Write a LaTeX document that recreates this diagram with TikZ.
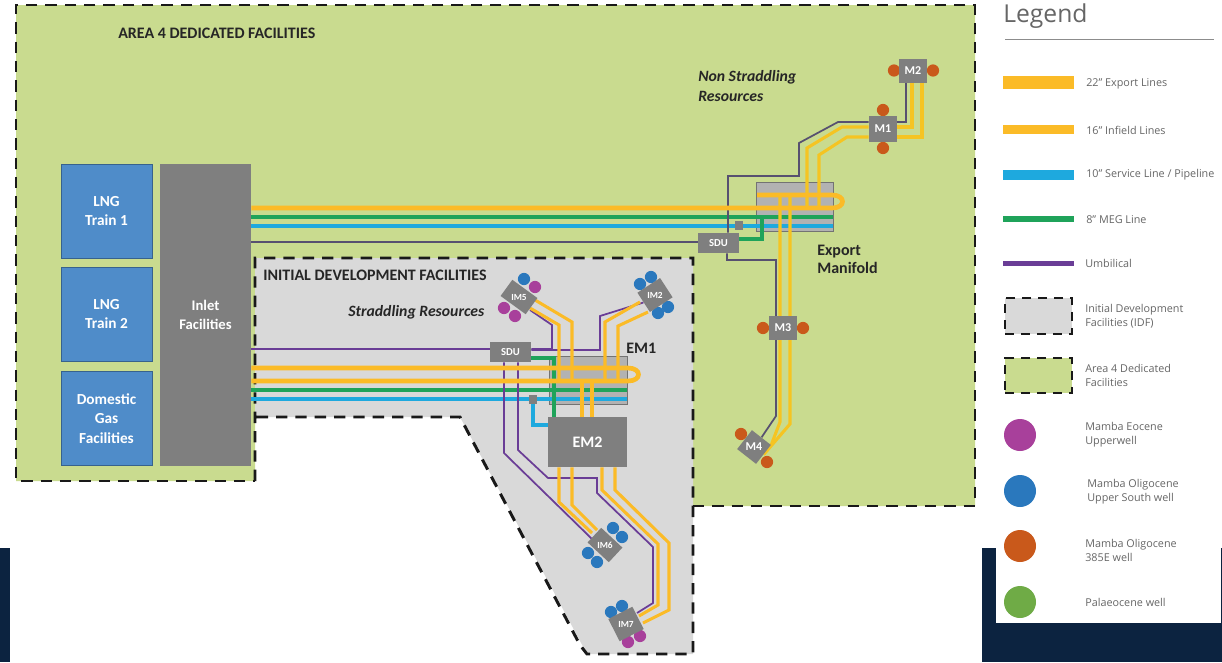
\documentclass[tikz,border=0pt]{standalone}
\usepackage{fontspec}
\setmainfont{Carlito}
\newfontfamily\lgdfont{Open Sans}
\pgfdeclarelayer{regions}
\pgfdeclarelayer{pipes}
\pgfdeclarelayer{wells}
\pgfsetlayers{regions,pipes,wells,main}
\definecolor{areagreen}{HTML}{C9DB8F}
\definecolor{idfgrey}{HTML}{D9D9D9}
\definecolor{boxgrey}{HTML}{7F7F7F}
\definecolor{lngblue}{HTML}{4F8CC9}
\definecolor{exportyellow}{HTML}{FBBB27}
\definecolor{infieldyellow}{HTML}{F5C422}
\definecolor{megreen}{HTML}{1FA35A}
\definecolor{svcblue}{HTML}{1EA9DE}
\definecolor{umbpurple}{HTML}{6A3D96}
\definecolor{umbgrey}{HTML}{575070}
\definecolor{wellorange}{HTML}{C9591B}
\definecolor{wellmagenta}{HTML}{A8409B}
\definecolor{wellblue}{HTML}{2A78BD}
\definecolor{wellgreen}{HTML}{6FAB46}
\definecolor{navy}{HTML}{0C2340}
\definecolor{legendtext}{HTML}{666666}
\tikzset{
 x=0.75pt,y=-0.75pt,
 wh/.style 2 args={minimum width=#1*0.75pt,minimum height=#2*0.75pt},
 dashborder/.style={draw=black!90,line width=2.2pt,dash pattern=on 8.5pt off 6pt},
 lngbox/.style={fill=lngblue,draw=lngblue!70!black,line width=0.5pt,wh={91}{94},inner sep=0pt,align=center,text=white,font=\fontsize{11.5}{14.5}\selectfont\bfseries},
 greybox/.style={fill=boxgrey,inner sep=0pt,text=white,font=\fontsize{8}{10}\selectfont\bfseries},
 manifold/.style={fill=black!30,draw=black!55,line width=0.7pt,inner sep=0pt},
 exportpipe/.style={draw=exportyellow,line width=3.5pt},
 infield/.style={draw=exportyellow,line width=2.3pt},
 infieldb/.style={draw=infieldyellow,line width=2.3pt},
 megpipe/.style={draw=megreen,line width=2.3pt},
 svcpipe/.style={draw=svcblue,line width=2.3pt},
 umbil/.style={draw=umbpurple,line width=1.3pt},
 umbilg/.style={draw=umbgrey,line width=1.3pt},
 well/.style={circle,inner sep=0pt,minimum size=9.2pt},
 title/.style={inner sep=0pt,anchor=west,font=\fontsize{12}{14}\selectfont\bfseries,text=black!85},
 ititle/.style={inner sep=0pt,anchor=west,align=left,font=\fontsize{11.8}{15}\selectfont\bfseries\itshape,text=black!85},
 legtext/.style={inner sep=0pt,anchor=west,align=left,font=\lgdfont\fontsize{8.1}{10.5}\selectfont,text=legendtext},
 swatch/.style={inner sep=0pt,minimum width=53.25pt},
 legwell/.style={circle,inner sep=0pt,minimum size=24pt},
}
\begin{document}
\begin{tikzpicture}
\useasboundingbox (0,0) rectangle (1222,662);
\begin{pgfonlayer}{regions}
 \fill[white] (0,0) rectangle (1222,662);
 \fill[navy] (0,548) rectangle (10,662);
 \fill[navy] (982,548) rectangle (1222,662);
 \fill[white] (996,540) rectangle (1221,623);
 \path[fill=areagreen] (16,5) -- (975,5) -- (975,506) -- (693,506) -- (693,258) -- (255,258) -- (255,481) -- (16,481) -- cycle;
 \path[fill=idfgrey] (255,258) -- (693,258) -- (693,654) -- (587,654) -- (460,417) -- (255,417) -- cycle;
 \draw[dashborder] (693,506) -- (975,506) -- (975,5) -- (16,5) -- (16,481) -- (255,481);
 \draw[dashborder] (255,481) -- (255,258) -- (693,258) -- (693,654) -- (587,654) -- (580,645) -- (460,417) -- (255,417);
 \node[manifold,wh={77}{49}] (expm) at (794.5,206.5) {};
 \node[manifold,wh={78}{48}] (em1) at (588,380) {};
\end{pgfonlayer}

% Facilities
\node[lngbox] (t1) at (106.5,211) {LNG\\Train 1};
\node[lngbox] (t2) at (106.5,314) {LNG\\Train 2};
\node[lngbox] (dg) at (106.5,418.5) {Domestic\\Gas\\Facilities};
\node[fill=boxgrey,wh={91}{302},inner sep=0pt,align=center,text=white,font=\fontsize{11}{14.5}\selectfont\bfseries] (inlet) at (205.5,315) {Inlet\\Facilities};

% Subsea structures
\node[greybox,wh={41}{20}] (sdua) at (718.5,243) {SDU};
\node[greybox,wh={41}{20}] (sdub) at (510.5,352) {SDU};
\node[fill=boxgrey,inner sep=0pt,wh={8}{9}] (sqa) at (739,225) {};
\node[fill=boxgrey,inner sep=0pt,wh={8}{9}] (sqb) at (533,399) {};
\node[greybox,wh={79}{50},font=\fontsize{12}{14}\selectfont\bfseries] (em2) at (587.5,442) {EM2};
\node[greybox,wh={28}{26},font=\fontsize{9}{10}\selectfont\bfseries] (m1) at (883,129) {M1};
\node[greybox,wh={28}{24},font=\fontsize{9}{10}\selectfont\bfseries] (m2) at (913,71) {M2};
\node[greybox,wh={28}{24},font=\fontsize{9}{10}\selectfont\bfseries] (m3) at (783,328) {M3};
\node[greybox,wh={24}{24},rotate=-38,font=\fontsize{9}{10}\selectfont\bfseries] (m4) at (754,447) {\rotatebox{38}{M4}};
\node[greybox,wh={31}{20},rotate=-36,font=\fontsize{7}{9}\selectfont\bfseries] (im5) at (519,297) {\rotatebox{36}{IM5}};
\node[greybox,wh={27}{23},rotate=33,font=\fontsize{7}{9}\selectfont\bfseries] (im2) at (655,295) {\rotatebox{-33}{IM2}};
\node[greybox,wh={29}{20},rotate=-43,font=\fontsize{7}{9}\selectfont\bfseries] (im6) at (605,545) {\rotatebox{43}{IM6}};
\node[greybox,wh={27}{25},rotate=27,font=\fontsize{7}{9}\selectfont\bfseries] (im7) at (626,624) {\rotatebox{-27}{IM7}};

% Wells
\begin{pgfonlayer}{wells}
 \node[well,fill=wellorange] (w1) at (883,110) {};
 \node[well,fill=wellorange] (w2) at (883,148) {};
 \node[well,fill=wellorange] (w3) at (894,70.5) {};
 \node[well,fill=wellorange] (w4) at (933,70.5) {};
 \node[well,fill=wellorange] (w5) at (763,328) {};
 \node[well,fill=wellorange] (w6) at (803,328) {};
 \node[well,fill=wellorange] (w7) at (741,434) {};
 \node[well,fill=wellorange] (w8) at (767,462) {};
 \node[well,fill=wellblue] (w9) at (524,279) {};
 \node[well,fill=wellmagenta] (w10) at (535,287) {};
 \node[well,fill=wellmagenta] (w11) at (504,308) {};
 \node[well,fill=wellmagenta] (w12) at (515,316) {};
 \node[well,fill=wellblue] (w13) at (640,284) {};
 \node[well,fill=wellblue] (w14) at (651,277) {};
 \node[well,fill=wellblue] (w15) at (668,307) {};
 \node[well,fill=wellblue] (w16) at (658,313) {};
 \node[well,fill=wellblue] (w17) at (613,528) {};
 \node[well,fill=wellblue] (w18) at (622,537) {};
 \node[well,fill=wellblue] (w19) at (588,553) {};
 \node[well,fill=wellblue] (w20) at (597,562) {};
 \node[well,fill=wellblue] (w21) at (611,612) {};
 \node[well,fill=wellblue] (w22) at (622,606) {};
 \node[well,fill=wellmagenta] (w23) at (628,642) {};
 \node[well,fill=wellmagenta] (w24) at (640,636) {};
\end{pgfonlayer}

% Pipes
\begin{pgfonlayer}{pipes}
 % Non straddling side
 \draw[svcpipe] (inlet.east |- 0,226) -- (expm.east |- 0,226);
 \draw[megpipe] (inlet.east |- 0,217) -- (expm.east |- 0,217);
 \draw[megpipe] (sdua.east |- 0,239) -- (762,239) -- (762,217);
 \draw[umbilg] (inlet.east |- 0,242) -- (sdua.west |- 0,242);
 \draw[umbilg] (sdua.north -| 728,0) -- (728,176) -- (799,176) -- (799,143) -- (838,122) -- (m1.west |- 0,122);
 \draw[umbilg] (m1.east |- 0,122) -- (906,122) -- (m2.south -| 906,0);
 \draw[umbilg] (sdua.south -| 727,0) -- (727,260) -- (776,260) -- (776,416) -- (m4.north);
 \draw[infieldb] (m2.south -| 912,0) -- (912,127) -- (m1.east |- 0,127);
 \draw[infieldb] (m2.south -| 922,0) -- (922,137) -- (m1.east |- 0,137);
 \draw[infieldb] (m1.west |- 0,127) -- (842,127) -- (807,148) -- (807,208);
 \draw[infieldb] (m1.west |- 0,137) -- (847,137) -- (819,155) -- (819,208);
 \draw[infieldb] (780,195) -- (780,422) -- (m4.north east);
 \draw[infieldb] (790,195) -- (790,424) -- (m4.east);
 \draw[exportpipe] (inlet.east |- 0,208) -- (832,208) .. controls (846,208) and (846,195) .. (832,195) -- (757,195);
 % Straddling side
 \draw[svcpipe] (inlet.east |- 0,399) -- (em1.east |- 0,399);
 \draw[megpipe] (inlet.east |- 0,390) -- (em1.east |- 0,390);
 \draw[megpipe] (sdub.east |- 0,358) -- (554,358) -- (em2.north -| 554,0);
 \draw[svcpipe] (sqb.south) -- (533,425) -- (em2.west |- 0,425);
 \draw[umbil] (inlet.east |- 0,349) -- (sdub.west |- 0,349);
 \draw[umbil] (sdub.east |- 0,349) -- (552,349) -- (552,325) -- (530,310);
 \draw[umbil] (sdub.east |- 0,350) -- (600,350) -- (600,316) -- (im2.west);
 \draw[umbil] (sdub.south -| 504,0) -- (504,453) -- (592,539);
 \draw[umbil] (sdub.south -| 518,0) -- (518,450) -- (548,478) -- (597,478) -- (597,493) -- (653,547) -- (653,603) -- (637,613);
 \draw[infield] (535,300) -- (572,322) -- (572,381);
 \draw[infield] (530,308) -- (559,325) -- (559,381);
 \draw[infield] (640,302) -- (605,322) -- (605,381);
 \draw[infield] (648,312) -- (618,326) -- (618,381);
 \draw[infield] (582,381) -- (em2.north -| 582,0);
 \draw[infield] (592,381) -- (em2.north -| 592,0);
 \draw[infield] (em2.south -| 559,0) -- (559,502) -- (592,533);
 \draw[infield] (em2.south -| 572,0) -- (572,505) -- (597,530);
 \draw[infield] (em2.south -| 602,0) -- (602,490) -- (658,544) -- (658,605) -- (639,616);
 \draw[infield] (em2.south -| 615,0) -- (615,490) -- (669,543) -- (669,610) -- (643,623);
 \draw[exportpipe] (inlet.east |- 0,381) -- (628,381) .. controls (642,381) and (642,368) .. (628,368) -- (inlet.east |- 0,368);
\end{pgfonlayer}

% Titles
\node[title] (tarea) at (118,33) {AREA 4 DEDICATED FACILITIES};
\node[title] (tidf) at (263,275) {INITIAL DEVELOPMENT FACILITIES};
\node[ititle] (tns) at (698,86) {Non Straddling\\Resources};
\node[ititle] (tsr) at (348,312) {Straddling Resources};
\node[inner sep=0pt,anchor=west,align=left,font=\fontsize{12}{13.5}\selectfont\bfseries,text=black!85] (texp) at (817,259) {Export\\Manifold};
\node[inner sep=0pt,anchor=west,font=\fontsize{12}{14}\selectfont\bfseries,text=black!85] (tem1) at (626,348) {EM1};

% Legend
\node[inner sep=0pt,anchor=west,font=\lgdfont\fontsize{18.5}{22}\selectfont,text=legendtext] (lt) at (1003,16) {Legend};
\coordinate (la) at (1005,39);
\coordinate (lb) at (1214,39);
\draw[black!45,line width=0.7pt] (la) -- (lb);
\node[swatch,fill=exportyellow,minimum height=9.5pt] (s1) at (1038.5,82.5) {};
\node[swatch,fill=exportyellow,minimum height=7pt] (s2) at (1038.5,129.5) {};
\node[swatch,fill=svcblue,minimum height=7pt] (s3) at (1038.5,175) {};
\node[swatch,fill=megreen,minimum height=5.2pt] (s4) at (1038.5,219) {};
\node[swatch,fill=umbpurple,minimum height=3.7pt] (s5) at (1038.5,263.5) {};
\node[legtext] (l1) at (1086,84) {22” Export Lines};
\node[legtext] (l2) at (1086,130) {16” Infield Lines};
\node[legtext] (l3) at (1086,175) {10” Service Line / Pipeline};
\node[legtext] (l4) at (1086,220) {8” MEG Line};
\node[legtext] (l5) at (1085,263) {Umbilical};
\node[fill=idfgrey,inner sep=0pt,wh={67}{36},draw=black!90,line width=1.1pt,dash pattern=on 7pt off 5pt] (s6) at (1038.5,316) {};
\node[legtext] (l6) at (1085,316) {Initial Development\\Facilities (IDF)};
\node[fill=areagreen,inner sep=0pt,wh={67}{35},draw=black!90,line width=1.1pt,dash pattern=on 7pt off 5pt] (s7) at (1038.5,375.5) {};
\node[legtext] (l7) at (1085,375) {Area 4 Dedicated\\Facilities};
\node[legwell,fill=wellmagenta] (c1) at (1020,435) {};
\node[legwell,fill=wellblue] (c2) at (1020,491) {};
\node[legwell,fill=wellorange] (c3) at (1020,546) {};
\node[legwell,fill=wellgreen] (c4) at (1020,602) {};
\node[legtext] (l8) at (1085,435) {Mamba Eocene\\Upperwell};
\node[legtext] (l9) at (1087,492) {Mamba Oligocene\\Upper South well};
\node[legtext] (l10) at (1085,550) {Mamba Oligocene\\385E well};
\node[legtext] (l11) at (1085,602) {Palaeocene well};
\end{tikzpicture}
\end{document}
